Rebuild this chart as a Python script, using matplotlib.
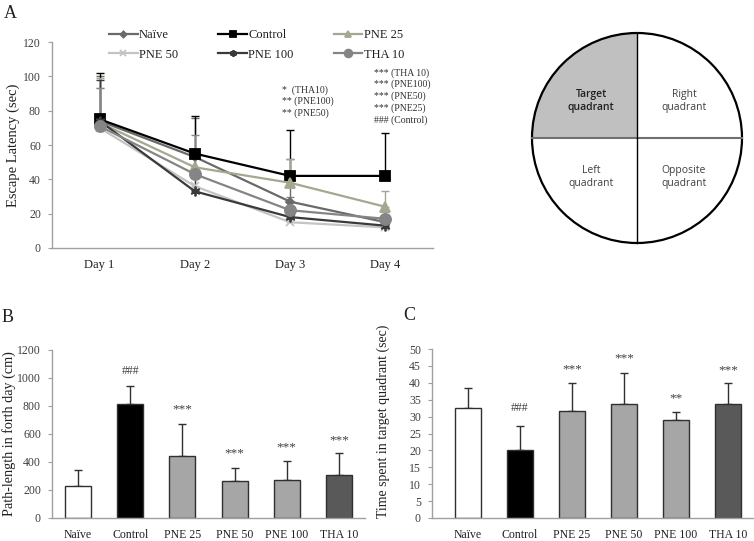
import matplotlib
matplotlib.use("Agg")
import matplotlib.pyplot as plt
import numpy as np
from matplotlib.patches import Circle, Wedge

plt.rcParams['font.family'] = ['Liberation Serif', 'DejaVu Serif']

# ---------------- Data ----------------
days = ['Day 1', 'Day 2', 'Day 3', 'Day 4']
naive = [74, 53, 27, 15]
control = [75, 55, 42, 42]
pne25 = [73, 47, 38, 24]
pne50 = [70, 36, 15, 12]
pne100 = [74, 33, 18, 13]
tha10 = [71, 43, 22, 17]

naive_err = [26, 23, 25, 4]
control_err = [27, 22, 27, 25]
pne25_err = [26, 10, 14, 9]
pne50_err = [23, 6, 4, 3]
pne100_err = [24, 8, 5, 3]
tha10_err = [22, 23, 8, 4]

groups = ['Naïve', 'Control', 'PNE 25', 'PNE 50', 'PNE 100', 'THA 10']
path_len = [228, 812, 445, 265, 270, 308]
path_err = [112, 128, 225, 90, 135, 154]
path_sig = ['', '###', '***', '***', '***', '***']
path_sig_y = [0, 1050, 778, 463, 508, 556]

time_target = [32.5, 20.0, 31.8, 33.8, 29.0, 33.8]
time_err = [6.0, 7.3, 8.2, 9.2, 2.5, 6.0]
time_sig = ['', '###', '***', '***', '**', '***']
time_sig_y = [0, 32.5, 44.0, 47.3, 35.5, 43.8]

day3_notes = ['*  (THA10)', '** (PNE100)', '** (PNE50)']
day3_note_y = [92, 85.5, 78.8]
day4_notes = ['*** (THA 10)', '*** (PNE100)', '*** (PNE50)', '*** (PNE25)', '### (Control)']
day4_note_y = [102, 95.5, 88.5, 81.5, 74.5]

quadrants = ['Target\nquadrant', 'Right\nquadrant', 'Left\nquadrant', 'Opposite\nquadrant']

W, H = 754, 541
fig = plt.figure(figsize=(W / 100, H / 100), dpi=100)


def px_axes(left, right, top, bottom):
    return fig.add_axes([left / W, (H - bottom) / H, (right - left) / W, (bottom - top) / H])


def style_axes(ax):
    for s in ['top', 'right']:
        ax.spines[s].set_visible(False)
    for s in ['left', 'bottom']:
        ax.spines[s].set_color('#a0a0a0')
        ax.spines[s].set_linewidth(1.0)
    ax.tick_params(axis='y', direction='out', length=3, color='#a0a0a0',
                   labelsize=8.5, labelcolor='#404040', pad=5)
    ax.tick_params(axis='x', length=0, labelsize=9, labelcolor='#202020', pad=8)


# ---------------- Panel A ----------------
axA = px_axes(52, 433, 42, 248)
x = np.arange(len(days))
series = [
    ('Naïve', naive, naive_err, '#6a6a6a', 'D', 4.5),
    ('Control', control, control_err, '#000000', 's', 7),
    ('PNE 25', pne25, pne25_err, '#a3a890', '^', 7),
    ('PNE 50', pne50, pne50_err, '#c4c4c4', 'x', 6),
    ('PNE 100', pne100, pne100_err, '#3a3a3a', (6, 2, 0), 7),
    ('THA 10', tha10, tha10_err, '#858585', 'o', 8),
]
handles = []
for name, vals, err, col, mk, ms in series:
    axA.errorbar(x, vals, yerr=[np.zeros(len(err)), err], fmt='none',
                 ecolor=col, elinewidth=1.0, capsize=3, capthick=1.0, zorder=2)
for name, vals, err, col, mk, ms in series:
    h, = axA.plot(x, vals, color=col, lw=1.6, marker=mk, ms=ms,
                  markeredgecolor=col, markerfacecolor=col, markeredgewidth=1.3, zorder=3,
                  label=name)
    handles.append(h)
axA.set_xlim(-0.5, 3.5)
axA.set_ylim(0, 120)
axA.set_yticks(range(0, 121, 20))
axA.set_xticks(x)
axA.set_xticklabels(days)
style_axes(axA)
axA.set_ylabel('Escape Latency (sec)', fontsize=10.5, color='#202020')
axA.yaxis.set_label_coords(-32 / 381, 0.5)
# row-major order for a 3-column legend
order = [0, 3, 1, 4, 2, 5]
leg = axA.legend(handles=[handles[i] for i in order], ncol=3, loc='upper left', frameon=False,
                 bbox_to_anchor=(104 / W, (H - 24) / H), bbox_transform=fig.transFigure,
                 fontsize=9, handlelength=2.3, handletextpad=0.1, columnspacing=3.2,
                 labelspacing=0.6, borderaxespad=0, markerscale=0.7)
for t in leg.get_texts():
    t.set_color('#202020')
for txt, yy in zip(day3_notes, day3_note_y):
    axA.text(2.0 - 0.09, yy, txt, fontsize=7, color='#303030', ha='left', va='center')
for txt, yy in zip(day4_notes, day4_note_y):
    axA.text(3.0 - 0.12, yy, txt, fontsize=7, color='#303030', ha='left', va='center',
             clip_on=False)

# ---------------- Panel B ----------------
bar_colors = ['#ffffff', '#000000', '#a6a6a6', '#a6a6a6', '#a6a6a6', '#595959']
axB = px_axes(52, 365, 350, 518)
xb = np.arange(len(groups))
axB.bar(xb, path_len, width=0.5, color=bar_colors, edgecolor='#303030', linewidth=1.0, zorder=2)
axB.errorbar(xb, path_len, yerr=[np.zeros(len(path_err)), path_err], fmt='none',
             ecolor='#303030', elinewidth=1.0, capsize=3, capthick=1.0, zorder=1)
for xi, s, yy in zip(xb, path_sig, path_sig_y):
    if s:
        axB.text(xi, yy, s, ha='center', va='center', fontsize=9.5 if s[0] == '*' else 8.5,
                 color='#404040')
axB.set_xlim(-0.5, 5.5)
axB.set_ylim(0, 1200)
axB.set_yticks(range(0, 1201, 200))
axB.set_xticks(xb)
axB.set_xticklabels(groups)
style_axes(axB)
axB.tick_params(axis='x', labelsize=8.5)
axB.set_ylabel('Path-length in forth day (cm)', fontsize=10.2, color='#202020')
axB.yaxis.set_label_coords(-36 / 313, 0.5)

# ---------------- Panel C ----------------
axC = px_axes(432, 754, 349, 518)
axC.bar(xb, time_target, width=0.5, color=bar_colors, edgecolor='#303030', linewidth=1.0, zorder=2)
axC.errorbar(xb, time_target, yerr=[np.zeros(len(time_err)), time_err], fmt='none',
             ecolor='#303030', elinewidth=1.0, capsize=3, capthick=1.0, zorder=1)
for xi, s, yy in zip(xb, time_sig, time_sig_y):
    if s:
        axC.text(xi, yy, s, ha='center', va='center', fontsize=9.5 if s[0] == '*' else 8.5,
                 color='#404040')
axC.set_xlim(-0.69, 5.5)
axC.set_ylim(0, 50)
axC.set_yticks(range(0, 51, 5))
axC.set_xticks(xb)
axC.set_xticklabels(groups)
style_axes(axC)
axC.tick_params(axis='x', labelsize=8.5)
axC.set_ylabel('Time spent in target quadrant (sec)', fontsize=10, color='#202020')
axC.yaxis.set_label_coords(-0.13, 0.57)

# ---------------- Overlay: labels + circle ----------------
ov = fig.add_axes([0, 0, 1, 1], zorder=-1)
ov.set_xlim(0, W)
ov.set_ylim(H, 0)
ov.axis('off')
ov.text(4, 14, 'A', fontsize=13, color='#202020', va='center', ha='left')
ov.text(2, 317, 'B', fontsize=13, color='#202020', va='center', ha='left')
ov.text(403, 315, 'C', fontsize=13, color='#202020', va='center', ha='left')

ov2 = fig.add_axes([0, 0, 1, 1], zorder=5)
ov2.set_xlim(0, W)
ov2.set_ylim(H, 0)
ov2.axis('off')
cx, cy, r = 637, 138, 105
ov2.add_patch(Wedge((cx, cy), r, 180, 270, facecolor='#c0c0c0', edgecolor='none'))
ov2.plot([cx - r, cx + r], [cy, cy], color='#707070', lw=1.5)
ov2.plot([cx, cx], [cy - r, cy + r], color='#000000', lw=1.0)
ov2.add_patch(Circle((cx, cy), r, facecolor='none', edgecolor='#000000', lw=1.6))
qpos = [(cx - 46, cy - 37), (cx + 47, cy - 37), (cx - 46, cy + 39), (cx + 47, cy + 39)]
for i, (q, (qx, qy)) in enumerate(zip(quadrants, qpos)):
    ov2.text(qx, qy, q, ha='center', va='center', fontsize=7.5, linespacing=1.2,
             family=['Open Sans', 'DejaVu Sans'],
             color='#202020' if i == 0 else '#404040',
             fontweight='semibold' if i == 0 else 'normal')

fig.savefig('out.png', dpi=100)
